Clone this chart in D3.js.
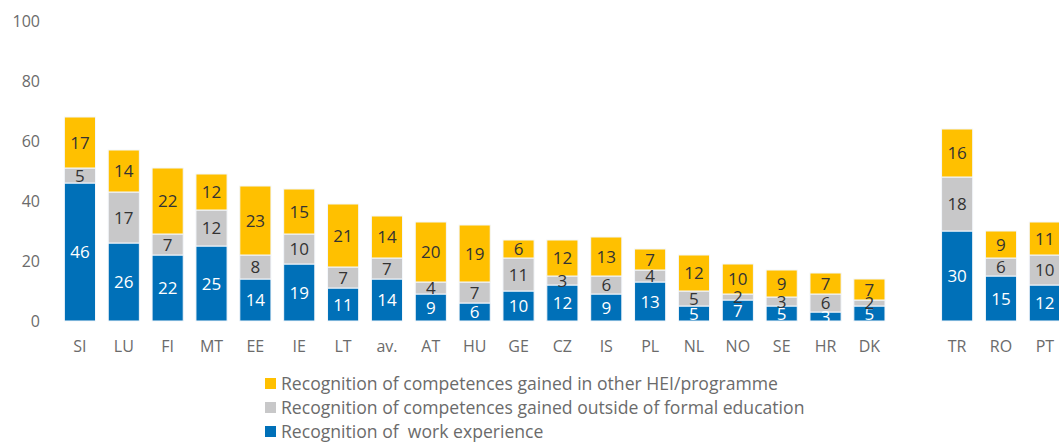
<!DOCTYPE html>
<html>
<head>
<meta charset="utf-8">
<script src="https://cdn.jsdelivr.net/npm/d3@7"></script>
<style>
  html, body { margin: 0; padding: 0; background: #fff; }
  svg { display: block; font-family: "Open Sans", "Noto Sans", sans-serif; }
</style>
</head>
<body>
<svg id="chart" width="1059" height="443"></svg>
<script>
// Countries in display order; "gap" marks an empty slot before the last group
const categories = ["SI","LU","FI","MT","EE","IE","LT","av.","AT","HU","GE","CZ","IS","PL","NL","NO","SE","HR","DK","gap","TR","RO","PT"];
const workExperience = [46,26,22,25,14,19,11,14,9,6,10,12,9,13,5,7,5,3,5,null,30,15,12];
const outsideFormal  = [5,17,7,12,8,10,7,7,4,7,11,3,6,4,5,2,3,6,2,null,18,6,10];
const otherHEI       = [17,14,22,12,23,15,21,14,20,19,6,12,13,7,12,10,9,7,7,null,16,9,11];
const yTicks = [0,20,40,60,80,100];

const seriesNames = [
  "Recognition of  work experience",
  "Recognition of competences gained outside of formal education",
  "Recognition of competences gained in other HEI/programme"
];
const seriesColors = ["#0070b8", "#c8c8c9", "#ffc000"];
const labelColors = ["#ffffff", "#333333", "#333333"];

const svg = d3.select("#chart");
const margin = { top: 21, left: 58, bottom: 122 };
const height = 443;

const x = d3.scaleBand()
  .domain(categories)
  .range([margin.left, margin.left + 43.86 * categories.length])
  .paddingInner(0.29)
  .paddingOuter(0.145);

const y = d3.scaleLinear()
  .domain([0, 100])
  .range([height - margin.bottom, margin.top]);

// y axis: labels only
const yAxis = svg.append("g")
  .attr("transform", `translate(${margin.left - 18},0)`)
  .call(d3.axisLeft(y).tickValues(yTicks).tickSize(0).tickPadding(0));
yAxis.select(".domain").remove();
yAxis.selectAll("text")
  .attr("fill", "#6b6b6b")
  .style("font-size", "16px")
  .style("font-family", "'Open Sans', sans-serif");

// x axis: category labels only
const xAxis = svg.append("g")
  .attr("transform", `translate(0,${y(0)})`)
  .call(d3.axisBottom(x).tickSize(0).tickPadding(20)
    .tickFormat(d => d === "gap" ? "" : d));
xAxis.select(".domain").remove();
xAxis.selectAll("text")
  .attr("fill", "#6b6b6b")
  .style("font-size", "16px")
  .style("font-family", "'Open Sans', sans-serif");

// stack the three series
const rows = categories.map((c, i) => ({
  cat: c, s0: workExperience[i], s1: outsideFormal[i], s2: otherHEI[i]
})).filter(r => r.s0 !== null);

const stack = d3.stack().keys(["s0", "s1", "s2"]);
const layers = stack(rows);

const g = svg.append("g");
layers.forEach((layer, li) => {
  const lg = g.append("g");
  lg.selectAll("rect")
    .data(layer)
    .join("rect")
    .attr("x", d => x(d.data.cat))
    .attr("width", x.bandwidth())
    .attr("y", d => y(d[1]))
    .attr("height", d => y(d[0]) - y(d[1]))
    .attr("fill", seriesColors[li])
    .attr("stroke", "#f4f7fb")
    .attr("stroke-width", 1);
});
layers.forEach((layer, li) => {
  g.append("g").selectAll("text")
    .data(layer)
    .join("text")
    .attr("x", d => x(d.data.cat) + x.bandwidth() / 2)
    .attr("y", d => (y(d[0]) + y(d[1])) / 2)
    .attr("dy", "0.36em")
    .attr("text-anchor", "middle")
    .attr("fill", labelColors[li])
    .style("font-size", "17px")
    .text(d => d[1] - d[0]);
});

// legend, top entry is the last series
const legendOrder = [2, 1, 0];
const legend = svg.append("g").attr("transform", "translate(265,384)");
legendOrder.forEach((si, k) => {
  const row = legend.append("g").attr("transform", `translate(0,${k * 24})`);
  row.append("rect")
    .attr("x", 0).attr("y", -6)
    .attr("width", 11).attr("height", 11)
    .attr("fill", seriesColors[si]);
  row.append("text")
    .attr("x", 16).attr("y", 0)
    .attr("dy", "0.35em")
    .attr("fill", "#6b6b6b")
    .style("font-size", "17.6px")
    .style("white-space", "pre")
    .text(seriesNames[si]);
});
</script>
</body>
</html>
